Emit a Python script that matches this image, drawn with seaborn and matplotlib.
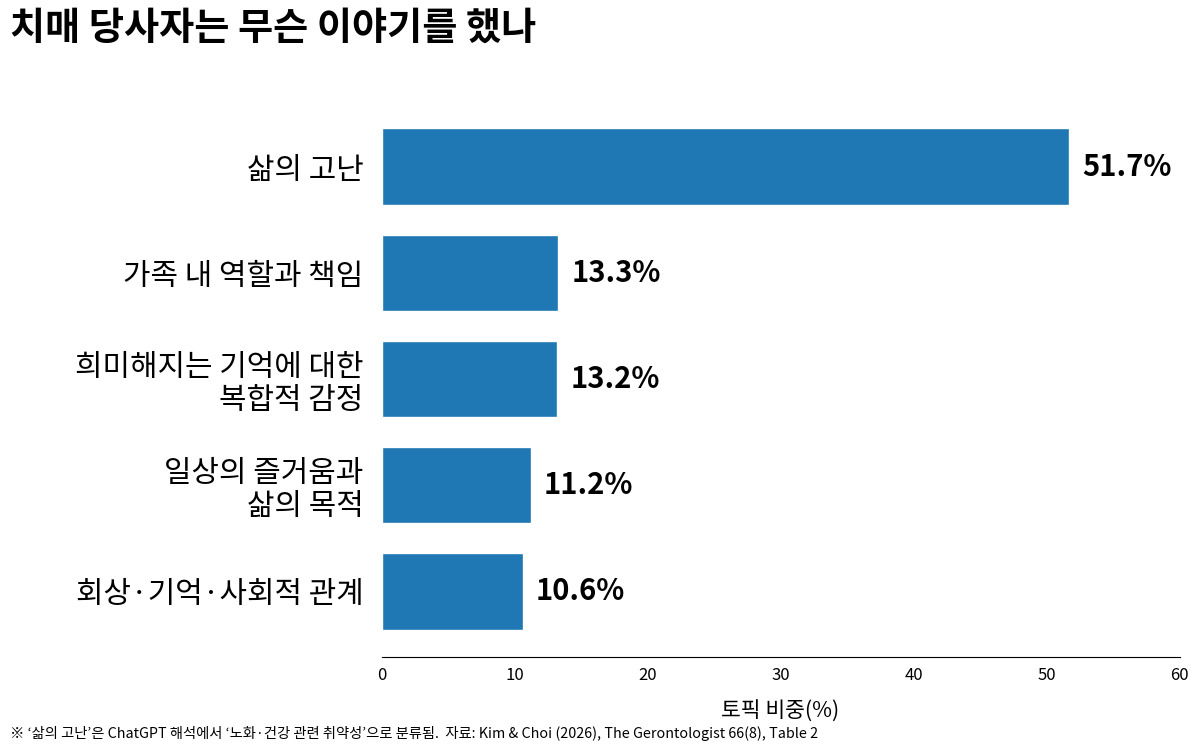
import matplotlib
matplotlib.use("Agg")
import matplotlib.pyplot as plt
import seaborn as sns
import pandas as pd

categories = ["삶의 고난", "가족 내 역할과 책임", "희미해지는 기억에 대한\n복합적 감정", "일상의 즐거움과\n삶의 목적", "회상·기억·사회적 관계"]
values = [51.7, 13.3, 13.2, 11.2, 10.6]
value_labels = ["51.7%", "13.3%", "13.2%", "11.2%", "10.6%"]
xticks = [0, 10, 20, 30, 40, 50, 60]

sns.set_theme(style="white")
plt.rcParams['font.family'] = ['Noto Sans CJK KR', 'DejaVu Sans']
plt.rcParams['text.color'] = 'black'
plt.rcParams['axes.labelcolor'] = 'black'
plt.rcParams['xtick.color'] = 'black'
plt.rcParams['ytick.color'] = 'black'

df = pd.DataFrame({"cat": categories, "val": values})

fig = plt.figure(figsize=(12, 7.52), dpi=100)
ax = fig.add_axes([0.318, 0.126, 0.665, 0.74])
sns.barplot(data=df, y="cat", x="val", orient="h", color="#1f77b4", width=0.72, ax=ax, saturation=1)
ax.set_xlim(0, 60)
ax.set_ylim(4.62, -0.62)
ax.set_xticks(xticks)
ax.set_xticklabels([str(t) for t in xticks], fontsize=12)
ax.tick_params(axis="x", length=4, width=0.8, color="black", pad=3)
ax.tick_params(axis="y", length=0, labelsize=21.5, pad=13)
for lab in ax.get_yticklabels():
    lab.set_horizontalalignment("right")
    lab.set_linespacing(1.1)
ax.set_ylabel("")
ax.set_xlabel("토픽 비중(%)", fontsize=15.5, labelpad=12)
for s in ["top", "right", "left"]:
    ax.spines[s].set_visible(False)
ax.spines["bottom"].set_color("black")
ax.spines["bottom"].set_linewidth(0.8)
for i, (v, t) in enumerate(zip(values, value_labels)):
    ax.text(v + 1.0, i, t, va="center", ha="left", fontsize=21, fontweight="bold", color="black")

fig.text(0.008, 0.962, "치매 당사자는 무슨 이야기를 했나", fontsize=27.5, fontweight="bold", ha="left", va="center")
fig.text(0.008, 0.025, "※ ‘삶의 고난’은 ChatGPT 해석에서 ‘노화·건강 관련 취약성’으로 분류됨.  자료: Kim & Choi (2026), The Gerontologist 66(8), Table 2",
         fontsize=10.3, ha="left", va="center")

fig.savefig("out.png", dpi=100)
